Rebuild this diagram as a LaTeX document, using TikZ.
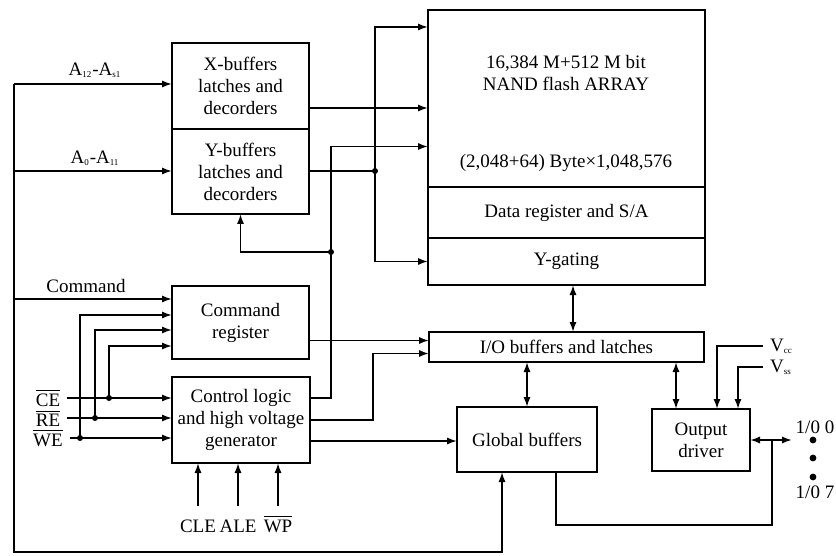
\documentclass[tikz,border=0pt]{standalone}
\usepackage{fontspec}
\setmainfont{Liberation Serif}
\usetikzlibrary{arrows.meta,
                positioning}
\tikzstyle{block} = [draw, rectangle, line width=0.9pt, outer sep=0pt, align=center, inner sep=1pt]
\tikzstyle{wire} = [line width=0.9pt]
\tikzstyle{arrow} = [wire,->,>={Latex[length=5pt,width=3.6pt]}]
\tikzstyle{biarrow} = [wire,<->,>={Latex[length=5pt,width=3.6pt]}]
\newcommand{\tinysub}[1]{\textsubscript{\fontsize{4.5}{5}\selectfont #1}}

\begin{document}
\begin{tikzpicture}[x=0.5pt,y=-0.5pt,font=\fontsize{9.5}{11}\selectfont]
    \useasboundingbox (0,0) rectangle (836,556);

    % memory array
    \node[block, minimum width=138.5pt, minimum height=88.5pt] (array) at (566.5,98.5) {};
    \node[block, minimum width=138.5pt, minimum height=25.5pt, below=0pt of array] (datareg) {Data register and S/A};
    \node[block, minimum width=138.5pt, minimum height=23.5pt, below=0pt of datareg] (ygate) {Y-gating};
    \node[align=center] (arrtop) at (566,73.5) {16,384 M+512 M bit\\NAND flash ARRAY};
    \node (arrbot) at (566,163) {(2,048+64) Byte×1,048,576};

    % address buffers, command, control
    \node[block, minimum width=68.5pt, minimum height=43pt] (xbuf) at (240.5,86) {X-buffers\\latches and\\decorders};
    \node[block, minimum width=68.5pt, minimum height=42.5pt, below=0pt of xbuf] (ybuf) {Y-buffers\\latches and\\decorders};
    \node[block, minimum width=68.5pt, minimum height=36.5pt] (cmdreg) at (240.5,322.5) {Command\\register};
    \node[block, minimum width=69pt, minimum height=43pt] (ctrl) at (241,420) {Control logic\\and high voltage\\generator};

    % i/o side
    \node[block, minimum width=137.5pt, minimum height=15pt] (io) at (566.5,347) {I/O buffers and latches};
    \node[block, minimum width=70pt, minimum height=32.5pt] (glob) at (527,439.5) {Global buffers};
    \node[block, minimum width=49pt, minimum height=31pt] (drv) at (701,440) {Output\\driver};

    % pin labels
    \node (lxa) at (95,70) {A\tinysub{12}-A\tinysub{s1}};
    \node (lya) at (95,158) {A\tinysub{0}-A\tinysub{11}};
    \node (lcmd) at (86,286) {Command};
    \node (ce) at (48,398) {$\overline{\mbox{CE}}$};
    \node (re) at (48,418) {$\overline{\mbox{RE}}$};
    \node (we) at (48,438) {$\overline{\mbox{WE}}$};
    \node[anchor=base] (cle) at (198,532) {CLE};
    \node[anchor=base] (ale) at (238,532) {ALE};
    \node[anchor=base] (wp) at (278,532) {$\overline{\mbox{WP}}$};
    \node[anchor=west] (vcc) at (763,346) {V\tinysub{cc}};
    \node[anchor=west] (vss) at (763,367) {V\tinysub{ss}};
    \node (io0) at (815,427) {1/0 0};
    \node (io7) at (815,492) {1/0 7};

    \coordinate (a12) at (14,84);
    \coordinate (a0) at (14,171);
    \coordinate (cmdin) at (14,299);
    \coordinate (busend) at (502,552);
    \coordinate (jy) at (375,171);
    \coordinate (jc) at (331,252);
    \coordinate (dce) at (109,398);
    \coordinate (dre) at (95,418);
    \coordinate (dwe) at (80,438);
    \coordinate (pinrow) at (0,506);
    \coordinate (pins) at (792,440);
    \coordinate (tap) at (772,440);
    \coordinate (io1) at ([yshift=3.25pt]io.west);
    \coordinate (io2) at ([yshift=-3.25pt]io.west);
    \coordinate (drvin) at ([xshift=-12.5pt]drv.north);

    % address and command inputs
    \draw [arrow] (a12) -- (a12 -| xbuf.west);
    \draw [arrow] (a0) -- (a0 -| ybuf.west);
    \draw [arrow] (cmdin) -- ([yshift=11.75pt]cmdreg.west);
    \draw [arrow] (a12) |- (busend) -- ([xshift=-12.5pt]glob.south);
    \draw [arrow] (ce.east) -- (ce.east -| ctrl.west);
    \draw [arrow] (re.east) -- (re.east -| ctrl.west);
    \draw [arrow] (we.east) -- (we.east -| ctrl.west);
    \draw [arrow] (dwe) |- ([yshift=3.75pt]cmdreg.west);
    \draw [arrow] (dre) |- ([yshift=-3.75pt]cmdreg.west);
    \draw [arrow] (dce) |- ([yshift=-11.75pt]cmdreg.west);
    \draw [arrow] (cle |- pinrow) -- (cle |- ctrl.south);
    \draw [arrow] (ale |- pinrow) -- (ale |- ctrl.south);
    \draw [arrow] (wp |- pinrow) -- (wp |- ctrl.south);

    % buffers to array
    \draw [arrow] ([yshift=-11pt]xbuf.east) -- ([yshift=-11pt]xbuf.east -| array.west);
    \draw [wire] (jy -| ybuf.east) -- (jy);
    \draw [arrow] (jy) |- ([yshift=-8.5pt]array.north west);
    \draw [arrow] (jy) |- (ygate.west);
    \draw [arrow] ([yshift=11pt]ctrl.east) -| (jc) |- ([yshift=-24pt]array.west);
    \draw [arrow] (jc) -| (ybuf.south);

    % control to i/o
    \draw [arrow] (cmdreg.east |- io1) -- (io1);
    \draw [arrow] (ctrl.east) -- ++(63,0) |- (io2);
    \draw [arrow] ([yshift=-10.5pt]ctrl.east) -- ([yshift=-10.5pt]ctrl.east -| glob.west);
    \draw [biarrow] ([xshift=3.25pt]ygate.south) -- ([xshift=3.25pt]ygate.south |- io.north);
    \draw [biarrow] (io.south -| glob.north) -- (glob.north);
    \draw [biarrow] (io.south -| drvin) -- (drvin);
    \draw [arrow] (vcc.west) -| ([xshift=8pt]drv.north);
    \draw [arrow] (vss.west) -| ([xshift=18.5pt]drv.north);
    \draw [biarrow] (drv.east) -- (pins);
    \draw [wire] ([xshift=14.5pt]glob.south) -- ++(0,53) -| (tap);

    % junctions
    \foreach \j in {jy,jc,dce,dre,dwe}
        \fill (\j) circle (1.5pt);
    \foreach \y in {440,458,477}
        \fill (813,\y) circle (1.7pt);
\end{tikzpicture}
\end{document}
